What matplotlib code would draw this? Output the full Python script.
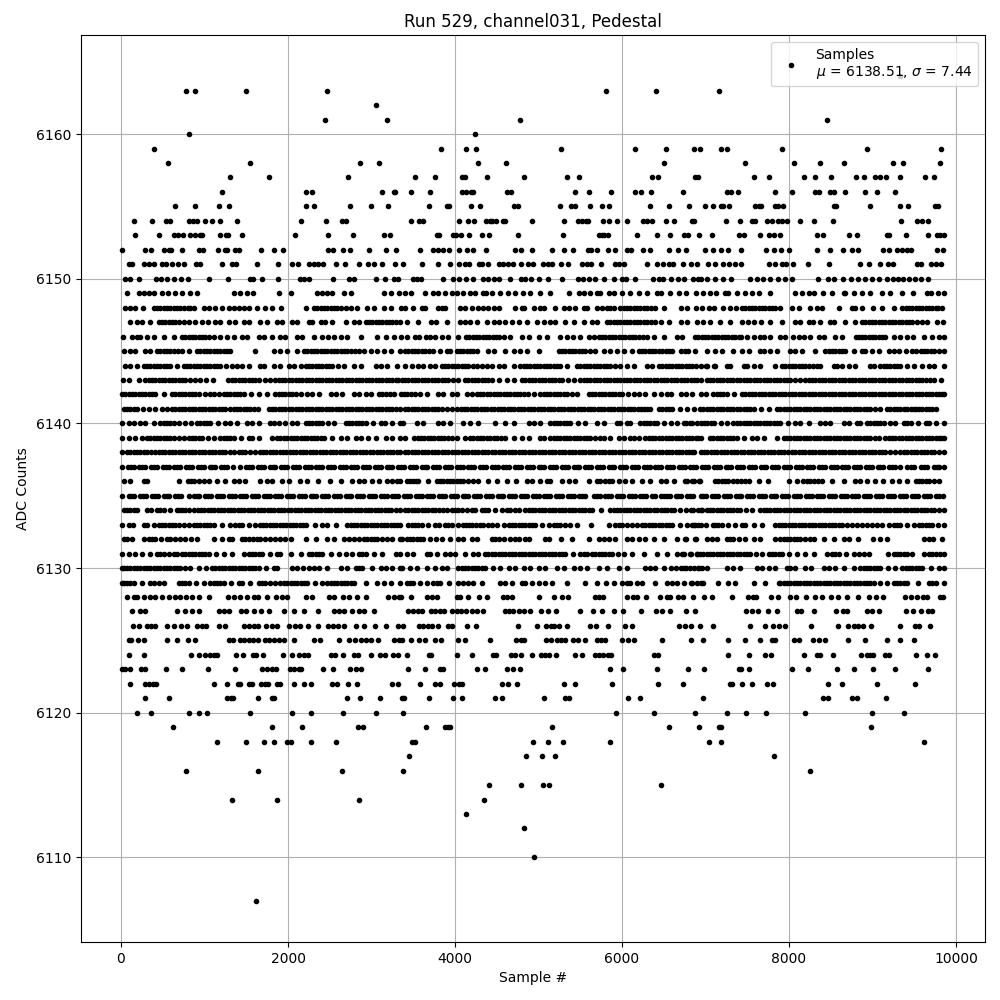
import matplotlib
matplotlib.use("Agg")
import matplotlib.pyplot as plt

# Values, one list of sample numbers per ADC level
row_6164 = [9330]
row_6163 = [774, 882, 1494, 2466, 5805, 6405, 7166]
row_6162 = [3058]
row_6161 = [2440, 3180, 4782, 8460]
row_6160 = [810, 4245]
row_6159 = [400, 3836, 4135, 4255, 5273, 6160, 6530, 6866, 6935, 7190, 7262, 7920, 8938, 9825]
row_6158 = [558, 1542, 2862, 3090, 4279, 4605, 6507, 7477, 8064, 8376, 8663, 9250, 9370, 9813]
row_6157 = [1302, 1770, 2718, 3525, 3765, 4087, 4119, 4387, 4830, 5345, 5489, 6363, 6435, 6880, 6915,
            7585, 7765, 8184, 8316, 8507, 8807, 8903, 9034, 9094, 9166, 9334, 9633, 9741]
row_6156 = [1206, 2214, 2286, 3131, 3275, 3287, 3477, 3705, 4087, 4135, 4195, 4219, 4626, 4674, 5441, 5609,
            5873, 6160, 6232, 6352, 6734, 7262, 7310, 7394, 7836, 8040, 8316, 8364, 8495, 8543, 8675, 8915,
            9058, 9274]
row_6155 = [650, 890, 1168, 1288, 2220, 2316, 2748, 2988, 3192, 3693, 3909, 3925, 4195, 4303, 4711, 4759,
            5261, 5393, 5441, 5621, 5765, 5849, 6339, 6567, 6807, 6999, 7094, 7190, 7214, 7286, 7597, 7645,
            7669, 7836, 7872, 7932, 8543, 8567, 8975, 9334, 9430, 9753, 9789]
row_6154 = [150, 366, 534, 582, 820, 858, 906, 1002, 1086, 1182, 1386, 2154, 2454, 2646, 2694, 3477, 3573,
            3621, 4052, 4160, 4231, 4375, 4423, 4447, 4495, 4579, 4603, 4925, 5309, 5477, 5525, 5573, 5597,
            5777, 5849, 5945, 6065, 6257, 6305, 6365, 6531, 6627, 6843, 6867, 7250, 7418, 7561, 7597, 7741,
            7801, 7873, 7921, 7981, 8136, 8304, 8531, 9346, 9538, 9598, 9669]
row_6153 = [173, 461, 629, 677, 737, 821, 881, 941, 965, 1181, 1253, 1277, 1445, 2081, 2477, 2777, 3149, 3221,
            3788, 3812, 3980, 4016, 4076, 4172, 4327, 4411, 4758, 5297, 5728, 5764, 5788, 5836, 6183, 6423,
            6579, 6746, 6794, 6927, 7082, 7406, 7466, 7657, 7765, 7825, 7897, 8340, 8412, 8723, 8819, 9178,
            9202, 9406, 9669, 9777, 9813, 9855]
row_6152 = [17, 293, 365, 509, 569, 593, 725, 929, 977, 1157, 1241, 1265, 1361, 1409, 1673, 1829, 1937, 2477,
            2537, 2657, 2741, 2969, 3173, 3293, 3585, 3740, 3800, 3860, 3932, 4052, 4139, 4219, 4375, 4722,
            4794, 4926, 5166, 5309, 5417, 5597, 5633, 5705, 5837, 5921, 6065, 6113, 6257, 6341, 6567, 6674,
            6770, 6998, 7094, 7190, 7274, 7430, 7729, 7825, 7909, 8004, 8336, 8495, 8651, 8759, 8831, 9130,
            9202, 9298, 9358, 9418, 9466, 9777, 9849]
row_6151 = [90, 126, 270, 330, 390, 486, 534, 606, 678, 750, 894, 942, 1205, 1325, 1373, 1625, 1877, 2053,
            2125, 2257, 2317, 2365, 2425, 2569, 2677, 2845, 2953, 3025, 3131, 3287, 3381, 3608, 3800, 3944,
            4052, 4123, 4171, 4291, 4327, 4399, 4531, 4579, 4639, 4699, 4794, 4878, 4938, 5058, 5117, 5165,
            5273, 5357, 5525, 5585, 5633, 5753, 5921, 5969, 6029, 6303, 6423, 6495, 6567, 6615, 6734, 6830,
            6902, 7034, 7118, 7214, 7286, 7358, 7430, 7765, 7837, 7920, 7968, 8052, 8232, 8483, 8855, 8963,
            9094, 9190, 9250, 9537, 9585, 9705, 9765, 9825]
row_6150 = [50, 102, 210, 414, 474, 546, 630, 714, 798, 1050, 1278, 1542, 1578, 1686, 1878, 2142, 2190, 2250,
            2538, 2730, 2790, 3054, 3162, 3270, 3318, 3501, 3549, 3597, 3860, 3980, 4052, 4136, 4219, 4339,
            4399, 4471, 4531, 4662, 4794, 4842, 4914, 5010, 5117, 5285, 5477, 5537, 5609, 5681, 5788, 5908,
            6004, 6052, 6160, 6375, 6447, 6495, 6591, 6674, 6746, 6854, 6914, 6950, 7022, 7118, 7214, 7310,
            7537, 7621, 7693, 7777, 7873, 7956, 8040, 8352, 8471, 8543, 8651, 8747, 8831, 8915, 8999, 9082,
            9178, 9250, 9310, 9370, 9441, 9513, 9585, 9669]
row_6149 = [70, 210, 270, 330, 390, 490, 562, 650, 730, 830, 910, 1350, 1430, 1510, 1578, 1890, 2038, 2350,
            2410, 2470, 2530, 2670, 2750, 3150, 3230, 3330, 3400, 3470, 3641, 3741, 3801, 3880, 3960, 4021,
            4101, 4181, 4241, 4341, 4373, 4441, 4541, 4629, 4720, 4809, 4901, 5021, 5133, 5361, 5481, 5541,
            5620, 5701, 5741, 5841, 5901, 6001, 6093, 6201, 6300, 6421, 6461, 6580, 6681, 6761, 6881, 6975,
            7055, 7130, 7235, 7275, 7375, 7475, 7560, 7640, 7775, 8075, 8155, 8235, 8295, 8407, 8515, 8655,
            8675, 8775, 8875, 8975, 9115, 9215, 9355, 9483, 9655, 9703, 9790, 9855]
row_6148 = [50, 110, 170, 258, 390, 470, 550, 630, 710, 800, 870, 990, 1050, 1130, 1210, 1290, 1350, 1410,
            1470, 1530, 1630, 1730, 1810, 1918, 2210, 2310, 2390, 2470, 2550, 2640, 2690, 2750, 2830, 2950,
            3030, 3150, 3230, 3350, 3400, 3501, 3601, 3641, 3801, 3841, 3881, 4061, 4121, 4201, 4281, 4341,
            4401, 4461, 4521, 4721, 4801, 4821, 4941, 5021, 5061, 5201, 5301, 5361, 5441, 5541, 5581, 5701,
            5761, 5901, 5981, 6060, 6140, 6220, 6300, 6400, 6501, 6701, 6781, 6881, 6960, 7040, 7100, 7215,
            7295, 7367, 7435, 7515, 7595, 7675, 7755, 7835, 7895, 8039, 8115, 8255, 8335, 8395, 8595, 8755,
            8795, 8875, 9003, 9115, 9255, 9355, 9435, 9515, 9595, 9675, 9755, 9830,
            430, 510, 590, 670, 750, 830, 2350, 2430, 2510, 2590, 5820, 5860, 6020, 6100, 6180, 6260, 6350,
            7475, 7555, 7635, 7715, 7795, 9395, 9475, 9555, 9635, 9715, 9790]
row_6147 = [110, 190, 250, 342, 450, 530, 610, 700, 810, 890, 970, 1038, 1130, 1190, 1290, 1370, 1470, 1530,
            1662, 1750, 1870, 1930, 2050, 2110, 2250, 2290, 2390, 2438, 2530, 2690, 2790, 2850, 2930, 3010,
            3090, 3170, 3250, 3340, 3420, 3561, 3709, 3773, 3901, 4061, 4121, 4181, 4261, 4381, 4461, 4521,
            4601, 4681, 4761, 4861, 4981, 5061, 5141, 5201, 5321, 5421, 5541, 5641, 5701, 5821, 5900, 5980,
            6060, 6140, 6220, 6300, 6400, 6461, 6561, 6701, 6781, 6901, 6975, 7055, 7175, 7295, 7435, 7507,
            7580, 7660, 7775, 7915, 8075, 8135, 8235, 8287, 8370, 8495, 8535, 8675, 8795, 8875, 8915, 8995,
            9075, 9155, 9235, 9315, 9395, 9475, 9595, 9647, 9767, 9845,
            490, 570, 650, 750, 2970, 3050, 3130, 3210, 3290, 5860, 5940, 6020, 6100, 6180, 6260, 6350,
            8955, 9035, 9115, 9195, 9275, 9355, 9435, 9530]
row_6146 = [18, 130, 190, 230, 310, 390, 510, 630, 730, 810, 890, 970, 1050, 1190, 1270, 1350, 1450, 1510,
            1650, 1718, 1810, 1910, 1970, 2110, 2170, 2310, 2410, 2478, 2550, 2630, 2710, 2870, 3070, 3170,
            3270, 3350, 3421, 3521, 3573, 3653, 3701, 3761, 3841, 3921, 4041, 4129, 4210, 4290, 4370, 4450,
            4530, 4581, 4661, 4801, 4881, 5001, 5101, 5253, 5341, 5409, 5501, 5600, 5661, 5721, 5800, 5880,
            5960, 6040, 6120, 6200, 6300, 6381, 6501, 6660, 6723, 6875, 6955, 7035, 7115, 7195, 7275, 7355,
            7430, 7495, 7575, 7655, 7695, 7775, 7895, 7955, 8047, 8115, 8175, 8255, 8355, 8415, 8555, 8635,
            8800, 8835, 8915, 8995, 9075, 9155, 9255, 9335, 9415, 9483, 9615, 9715, 9795, 9855,
            770, 850, 930, 1010, 1110, 4170, 4250, 4330, 4410, 4490, 5760, 5840, 5920, 6000, 6080, 6160, 6250,
            6915, 6995, 7075, 7155, 7235, 7315, 7395, 8875, 8955, 9035, 9115]
row_6145 = [30, 110, 170, 290, 342, 430, 470, 550, 630, 730, 810, 910, 990, 1070, 1150, 1230, 1310, 1610,
            1830, 1910, 1990, 2110, 2190, 2270, 2350, 2430, 2510, 2590, 2670, 2750, 2850, 2910, 2990, 3070,
            3150, 3230, 3340, 3401, 3481, 3561, 3641, 3741, 3821, 3901, 3941, 4021, 4101, 4181, 4261, 4401,
            4461, 4601, 4701, 4781, 4861, 5001, 5241, 5321, 5401, 5481, 5561, 5681, 5781, 5861, 5941, 6021,
            6121, 6201, 6281, 6361, 6441, 6521, 6601, 6701, 6753, 6795, 6875, 7015, 7115, 7195, 7335, 7435,
            7515, 7655, 7695, 7775, 7855, 8015, 8075, 8155, 8315, 8435, 8515, 8595, 8675, 8875, 8915, 8995,
            9075, 9195, 9255, 9315, 9395, 9475, 9515, 9575, 9655, 9735, 9855,
            510, 590, 680, 950, 1030, 1110, 1190, 1270, 2230, 2310, 2390, 2470, 2550, 2630, 2710, 2800,
            3441, 3521, 3601, 3691, 4061, 4141, 4221, 5281, 5361, 5441, 5521, 5620, 6241, 6321, 6401, 6481,
            6561, 8475, 8555, 8635, 8780, 9615, 9695, 9795]
row_6144 = [50, 110, 190, 270, 350, 430, 510, 590, 750, 790, 870, 950, 1030, 1110, 1190, 1330, 1390, 1450,
            1530, 1670, 1710, 1830, 1910, 2010, 2070, 2150, 2210, 2290, 2370, 2450, 2530, 2670, 2790, 2870,
            3050, 3110, 3190, 3310, 3401, 3481, 3561, 3621, 3701, 3761, 3841, 3921, 4001, 4081, 4161, 4261,
            4321, 4381, 4441, 4521, 4581, 4701, 4781, 4861, 4941, 5021, 5101, 5181, 5261, 5341, 5461, 5541,
            5621, 5701, 5781, 5861, 5981, 6061, 6141, 6301, 6361, 6441, 6521, 6601, 6681, 6761, 6841, 6941,
            7000, 7100, 7015, 7115, 7255, 7295, 7455, 7495, 7575, 7655, 7835, 7915, 7995, 8075, 8155, 8235,
            8335, 8375, 8535, 8575, 8635, 8715, 8795, 8975, 9015, 9095, 9175, 9255, 9335, 9495, 9595, 9675,
            9735, 9855,
            310, 390, 470, 550, 670, 830, 910, 990, 1070, 1150, 1260, 2250, 2330, 2410, 2490, 2600,
            3881, 3961, 4041, 4121, 4210, 4821, 4901, 4981, 5061, 5141, 5221, 5501, 5581, 5661, 5741, 5821,
            5920, 6481, 6561, 6641, 6721, 6801, 6890, 7955, 8035, 8115, 8195, 8285, 9135, 9215, 9295, 9415]
row_6143 = [22, 100, 210, 290, 370, 450, 530, 610, 690, 770, 890, 942, 1020, 1100, 1278, 1330, 1410, 1490,
            1570, 1650, 1790, 1850, 1930, 2010, 2090, 2170, 2250, 2330, 2410, 2490, 2570, 2650, 2730, 2810,
            2890, 2970, 3050, 3130, 3210, 3290, 3361, 3441, 3521, 3601, 3681, 3761, 3841, 3921, 4041, 4121,
            4201, 4281, 4361, 4441, 4621, 4701, 4801, 4881, 4961, 5041, 5121, 5201, 5281, 5421, 5501, 5581,
            5661, 5741, 5821, 5901, 5981, 6061, 6141, 6221, 6301, 6381, 6461, 6541, 6621, 6701, 6781, 6861,
            6941, 7055, 7135, 7215, 7295, 7375, 7455, 7535, 7615, 7695, 7775, 7855, 7935, 8015, 8135, 8195,
            8275, 8355, 8435, 8515, 8595, 8675, 8755, 8835, 8915, 8995, 9075, 9155, 9235, 9315, 9395, 9475,
            9555, 9635, 9735, 9815,
            330, 410, 490, 570, 650, 730, 830, 1370, 1450, 1530, 1610, 1720, 1890, 1970, 2050, 2130, 2210,
            2290, 2370, 2450, 2530, 2610, 2690, 2770, 2850, 2930, 3010, 3090, 3170, 3250, 3320, 3401, 3481,
            3561, 3641, 3721, 3801, 3881, 3980, 4161, 4241, 4321, 4401, 4530, 4841, 4921, 5001, 5081, 5161,
            5241, 5350, 5541, 5621, 5701, 5781, 5861, 5941, 6021, 6101, 6181, 6261, 6341, 6421, 6501, 6581,
            6661, 6741, 6821, 6901, 7015, 7095, 7175, 7255, 7335, 7415, 7495, 7575, 7655, 7735, 7815, 7895,
            7975, 8075, 8235, 8315, 8395, 8475, 8555, 8635, 8715, 8795, 8875, 8955, 9035, 9115, 9195, 9275,
            9355, 9435, 9515, 9595, 9685]
row_6142 = [10, 90, 170, 250, 330, 410, 510, 610, 690, 770, 850, 930, 1070, 1110, 1170, 1230, 1310, 1390,
            1470, 1650, 1750, 1850, 1930, 2010, 2090, 2230, 2290, 2370, 2510, 2570, 2650, 2790, 2850, 2930,
            2990, 3090, 3170, 3270, 3350, 3430, 3521, 3581, 3661, 3801, 3861, 3961, 4021, 4141, 4201, 4261,
            4341, 4421, 4501, 4581, 4661, 4741, 4821, 4941, 5021, 5101, 5181, 5261, 5341, 5461, 5601, 5681,
            5761, 5841, 5921, 6000, 6141, 6201, 6281, 6381, 6461, 6541, 6581, 6701, 6761, 6841, 6941, 7000,
            7095, 7175, 7255, 7435, 7475, 7555, 7635, 7715, 7795, 7875, 7955, 8035, 8115, 8195, 8275, 8355,
            8435, 8515, 8595, 8675, 8755, 8835, 8915, 8995, 9075, 9155, 9235, 9315, 9395, 9475, 9555, 9635,
            9715, 9795, 9860,
            50, 130, 210, 290, 370, 650, 730, 810, 890, 1000, 1270, 1350, 1430, 1560, 1890, 1970, 2050, 2160,
            3130, 3220, 3390, 3470, 4301, 4381, 4461, 4541, 4621, 4701, 4781, 4880, 5061, 5141, 5221, 5301,
            5400, 5641, 5721, 5801, 5881, 5960, 6070, 7135, 7215, 7345, 7515, 7595, 7675, 7755, 7835, 7915,
            7995, 8075, 8155, 8235, 8315, 8395, 8475, 8555, 8635, 8715, 8795, 8875, 8955, 9035, 9115, 9195,
            9275, 9355, 9435, 9515, 9595, 9675, 9755, 9830]
row_6141 = [30, 110, 190, 330, 410, 490, 550, 610, 690, 770, 850, 930, 1010, 1090, 1170, 1250, 1350, 1390,
            1470, 1550, 1640, 1770, 1810, 1850, 1890, 1970, 2050, 2130, 2210, 2290, 2370, 2450, 2530, 2610,
            2690, 2770, 2850, 2930, 3010, 3090, 3170, 3250, 3340, 3441, 3521, 3601, 3681, 3761, 3841, 3961,
            4029, 4109, 4189, 4269, 4349, 4429, 4509, 4589, 4669, 4749, 4829, 4909, 4989, 5069, 5149, 5229,
            5309, 5389, 5469, 5549, 5629, 5709, 5789, 5869, 5949, 6029, 6109, 6189, 6269, 6341, 6441, 6521,
            6601, 6781, 6861, 6935, 7015, 7095, 7175, 7255, 7335, 7415, 7495, 7575, 7755, 7855, 7935, 8015,
            8095, 8175, 8255, 8335, 8415, 8495, 8575, 8655, 8735, 8815, 8895, 8975, 9095, 9175, 9255, 9335,
            9415, 9495, 9555, 9635, 9715, 9755,
            70, 150, 260, 650, 730, 810, 890, 970, 1050, 1130, 1210, 1300, 1430, 1510, 1595, 1930, 2010, 2090,
            2170, 2250, 2330, 2410, 2490, 2570, 2650, 2730, 2810, 2890, 2970, 3050, 3130, 3210, 3295, 3401,
            3481, 3561, 3641, 3721, 3801, 3900, 4069, 4149, 4229, 4309, 4389, 4469, 4549, 4629, 4709, 4789,
            4869, 4949, 5029, 5109, 5189, 5269, 5349, 5429, 5509, 5589, 5669, 5749, 5829, 5909, 5989, 6069,
            6149, 6229, 6305, 6481, 6561, 6690, 6975, 7055, 7135, 7215, 7295, 7375, 7455, 7535, 7660, 7895,
            7975, 8055, 8135, 8215, 8295, 8375, 8455, 8535, 8615, 8695, 8775, 8855, 8935, 9035, 9215, 9295,
            9375, 9455, 9525, 9595, 9675]
row_6140 = [10, 90, 150, 222, 290, 390, 470, 550, 630, 770, 838, 910, 990, 1070, 1250, 1302, 1390, 1510, 1570,
            1650, 1790, 1830, 1890, 1970, 2050, 2110, 2210, 2250, 2330, 2410, 2550, 2690, 2770, 2850, 2930,
            3110, 3162, 3250, 3340, 3373, 3541, 3621, 3801, 3853, 3941, 4101, 4181, 4281, 4481, 4601, 4701,
            4881, 4941, 5021, 5141, 5221, 5301, 5381, 5561, 5701, 5781, 5941, 5981, 6061, 6101, 6221, 6261,
            6341, 6421, 6581, 6661, 6761, 6841, 6941, 7020, 7100, 7255, 7335, 7415, 7495, 7575, 7655, 7735,
            7815, 7895, 8075, 8135, 8235, 8375, 8435, 8495, 8655, 8715, 8815, 8855, 8935, 8975, 9055, 9135,
            9275, 9375, 9455, 9635, 9675, 9755, 9855,
            510, 590, 700, 950, 1030, 1160, 2290, 2370, 2480, 2730, 2810, 2890, 3020, 5181, 5261, 5341, 5470,
            6301, 6381, 6500, 6740, 6820, 6900, 6980, 7060, 7180, 7375, 7455, 7535, 7615, 7695, 7775, 7855,
            7985, 9015, 9095, 9205, 9415, 9545]
row_6139 = [10, 90, 170, 250, 310, 390, 470, 550, 630, 750, 810, 890, 970, 1110, 1190, 1270, 1350, 1530, 1570,
            1650, 1810, 1870, 1950, 2030, 2110, 2190, 2270, 2350, 2430, 2630, 2702, 2810, 2870, 2958, 3054,
            3170, 3250, 3340, 3401, 3511, 3591, 3671, 3751, 3831, 3911, 4021, 4121, 4181, 4261, 4341, 4421,
            4501, 4601, 4701, 4801, 4881, 5021, 5069, 5141, 5221, 5301, 5381, 5461, 5541, 5621, 5741, 5781,
            5861, 5961, 6021, 6101, 6141, 6201, 6281, 6361, 6441, 6521, 6601, 6681, 6761, 6841, 6941, 6905,
            7055, 7135, 7215, 7295, 7375, 7555, 7615, 7695, 7855, 7935, 8015, 8095, 8175, 8255, 8335, 8415,
            8495, 8575, 8655, 8735, 8815, 8895, 8975, 9075, 9155, 9235, 9315, 9395, 9475, 9555, 9635, 9715,
            9795, 9855,
            350, 430, 510, 590, 690, 850, 930, 1040, 1230, 1310, 1440, 1910, 1990, 2070, 2150, 2230, 2310, 2390,
            2530, 3551, 3631, 3711, 3791, 3871, 3965, 4221, 4301, 4381, 4461, 4550, 5181, 5261, 5341, 5421,
            5501, 5581, 5680, 6321, 6401, 6481, 6561, 6641, 6721, 6801, 6890, 7095, 7175, 7255, 7335, 7465,
            7975, 8055, 8135, 8215, 8295, 8375, 8455, 8535, 8615, 8695, 8775, 8855, 8935, 9025, 9195, 9275,
            9355, 9435, 9515, 9595, 9675, 9755, 9825]
row_6138 = [10, 70, 150, 230, 310, 410, 450, 530, 610, 690, 770, 850, 930, 1010, 1090, 1170, 1250, 1350, 1410,
            1490, 1610, 1662, 1740, 1820, 1900, 1980, 2060, 2140, 2220, 2300, 2380, 2460, 2540, 2620, 2700,
            2780, 2860, 2940, 3020, 3100, 3180, 3260, 3340, 3441, 3521, 3601, 3681, 3761, 3841, 3921, 3961,
            4041, 4121, 4201, 4281, 4361, 4441, 4521, 4601, 4681, 4761, 4841, 4921, 5001, 5081, 5161, 5241,
            5321, 5401, 5481, 5561, 5641, 5721, 5801, 5881, 5961, 6041, 6121, 6201, 6281, 6361, 6441, 6521,
            6601, 6681, 6761, 6841, 6943, 7023, 7103, 7183, 7263, 7343, 7423, 7503, 7583, 7663, 7743, 7823,
            7903, 7983, 8075, 8115, 8195, 8275, 8355, 8435, 8515, 8595, 8675, 8755, 8835, 8915, 8995, 9075,
            9155, 9270, 9335, 9415, 9495, 9575, 9655, 9735, 9855,
            110, 190, 270, 360, 490, 570, 650, 730, 810, 890, 970, 1050, 1130, 1210, 1300, 1450, 1550, 1700,
            1780, 1860, 1940, 2020, 2100, 2180, 2260, 2340, 2420, 2500, 2580, 2660, 2740, 2820, 2900, 2980,
            3060, 3140, 3220, 3300, 3401, 3481, 3561, 3641, 3721, 3801, 3881, 4001, 4081, 4161, 4241, 4321,
            4401, 4481, 4561, 4641, 4721, 4801, 4881, 4961, 5041, 5121, 5201, 5281, 5361, 5441, 5521, 5601,
            5681, 5761, 5841, 5921, 6001, 6081, 6161, 6241, 6321, 6401, 6481, 6561, 6641, 6721, 6801, 6861,
            6983, 7063, 7143, 7223, 7303, 7383, 7463, 7543, 7623, 7703, 7783, 7863, 7943, 8030, 8155, 8235,
            8315, 8395, 8475, 8555, 8635, 8715, 8795, 8875, 8955, 9035, 9115, 9210, 9375, 9455, 9535, 9615,
            9695, 9795]
row_6137 = [10, 80, 150, 220, 290, 360, 430, 500, 570, 640, 710, 780, 850, 920, 990, 1060, 1130, 1200, 1270,
            1340, 1420, 1498, 1570, 1640, 1710, 1780, 1850, 1920, 1990, 2060, 2130, 2200, 2270, 2340, 2410,
            2480, 2550, 2620, 2690, 2760, 2830, 2900, 2970, 3040, 3110, 3180, 3250, 3320, 3390, 3460, 3530,
            3600, 3670, 3740, 3810, 3880, 3950, 4020, 4090, 4160, 4230, 4300, 4370, 4440, 4510, 4580, 4650,
            4720, 4790, 4860, 4930, 5000, 5070, 5140, 5210, 5280, 5350, 5420, 5490, 5560, 5630, 5700, 5770,
            5840, 5910, 5980, 6050, 6120, 6190, 6260, 6330, 6400, 6470, 6540, 6610, 6680, 6750, 6820, 6890,
            6960, 7030, 7100, 7170, 7240, 7310, 7380, 7450, 7520, 7590, 7660, 7730, 7800, 7870, 7940, 8010,
            8080, 8150, 8220, 8290, 8360, 8430, 8500, 8570, 8640, 8710, 8780, 8850, 8920, 8990, 9060, 9130,
            9200, 9270, 9335, 9415, 9495, 9575, 9655, 9735, 9800, 9855,
            115, 255, 395, 535, 675, 815, 955, 1095, 1235, 1535, 1675, 1815, 1955, 2095, 2235, 2375, 2515, 2655,
            2795, 2935, 3075, 3215, 3355, 3495, 3635, 3775, 3915, 4055, 4195, 4335, 4475, 4615, 4755, 4895,
            5035, 5175, 5315, 5455, 5595, 5735, 5875, 6015, 6155, 6295, 6435, 6575, 6715, 6855, 6995, 7135,
            7275, 7415, 7555, 7695, 7835, 7975, 8115, 8255, 8395, 8535, 8675, 8815, 8955, 9095, 9235, 9455,
            9615, 9775]
row_6136 = [30, 110, 270, 310, 690, 800, 880, 990, 1050, 1150, 1250, 1350, 1410, 1490, 1670, 1750, 1810, 1930,
            2010, 2138, 2230, 2358, 2500, 2630, 2770, 2850, 2910, 3010, 3090, 3190, 3250, 3310, 3341, 3421,
            3501, 3561, 3681, 3781, 3861, 3941, 4021, 4101, 4221, 4281, 4401, 4501, 4621, 4729, 4861, 4921,
            5013, 5101, 5141, 5281, 5361, 5441, 5601, 5701, 5741, 5801, 5881, 6041, 6121, 6241, 6341, 6461,
            6521, 6621, 6781, 6861, 6921, 6755, 6835, 6935, 7115, 7195, 7275, 7375, 7475, 7515, 7635, 7743,
            7995, 8095, 8163, 8215, 8295, 8395, 8515, 8655, 8795, 8855, 8935, 9035, 9123, 9235, 9315, 9415,
            9515, 9595, 9675, 9795,
            840, 940, 3461, 3531, 3821, 3901, 3981, 4061, 4160, 5841, 5960, 7155, 7235, 7325, 7425, 8255, 8345,
            9555, 9635, 9735]
row_6135 = [10, 90, 160, 230, 300, 370, 440, 510, 580, 650, 720, 810, 870, 940, 1010, 1080, 1150, 1220, 1290,
            1360, 1430, 1500, 1570, 1640, 1710, 1780, 1850, 1920, 1990, 2060, 2130, 2200, 2270, 2340, 2410,
            2480, 2550, 2620, 2690, 2760, 2830, 2900, 2970, 3040, 3110, 3180, 3250, 3320, 3390, 3460, 3530,
            3600, 3670, 3740, 3810, 3880, 3950, 4020, 4090, 4160, 4230, 4300, 4370, 4440, 4510, 4580, 4650,
            4720, 4790, 4860, 4930, 5000, 5070, 5140, 5210, 5280, 5350, 5420, 5490, 5561, 5661, 5731, 5801,
            5871, 5941, 6011, 6081, 6151, 6221, 6291, 6361, 6461, 6501, 6571, 6641, 6711, 6781, 6851, 6941,
            7010, 7080, 7150, 7220, 7290, 7360, 7430, 7500, 7570, 7640, 7710, 7780, 7850, 7920, 7990, 8060,
            8130, 8200, 8270, 8340, 8410, 8480, 8550, 8620, 8690, 8760, 8830, 8900, 8970, 9040, 9110, 9180,
            9260, 9335, 9405, 9475, 9545, 9615, 9685, 9755, 9850,
            125, 265, 405, 545, 685, 905, 1045, 1185, 1325, 1465, 1605, 1745, 1885, 2025, 2165, 2305, 2445, 2585,
            2725, 2865, 3005, 3145, 3285, 3425, 3565, 3705, 3845, 3985, 4125, 4265, 4405, 4545, 4685, 4825,
            4965, 5105, 5245, 5385, 5525, 5696, 5836, 5976, 6116, 6256, 6396, 6536, 6676, 6816, 6975, 7115,
            7255, 7395, 7535, 7675, 7815, 7955, 8095, 8235, 8375, 8515, 8655, 8795, 8935, 9075, 9220, 9370,
            9510, 9650, 9800]
row_6134 = [38, 110, 190, 310, 358, 430, 510, 670, 690, 770, 870, 918, 998, 1078, 1158, 1238, 1318, 1398, 1478,
            1558, 1638, 1718, 1798, 1878, 1958, 2038, 2118, 2198, 2278, 2358, 2438, 2518, 2598, 2678, 2758,
            2838, 2918, 2998, 3078, 3158, 3238, 3340, 3401, 3441, 3521, 3601, 3681, 3761, 3861, 3961, 4001,
            4081, 4201, 4241, 4321, 4401, 4561, 4621, 4661, 4721, 4761, 4841, 4921, 5001, 5081, 5161, 5241,
            5321, 5401, 5481, 5561, 5641, 5861, 5901, 5981, 6061, 6141, 6221, 6301, 6381, 6461, 6541, 6621,
            6761, 6821, 6941, 6855, 6955, 7015, 7095, 7175, 7255, 7335, 7415, 7555, 7655, 7735, 7815, 7895,
            7975, 8055, 8135, 8215, 8295, 8375, 8455, 8535, 8615, 8695, 8775, 8855, 8935, 9015, 9095, 9175,
            9255, 9335, 9415, 9495, 9575, 9655, 9735, 9855,
            70, 150, 470, 590, 730, 820, 958, 1038, 1118, 1198, 1278, 1358, 1438, 1518, 1598, 1678, 1758, 1838,
            1918, 1998, 2078, 2158, 2238, 2318, 2398, 2478, 2558, 2638, 2718, 2798, 2878, 2958, 3038, 3118,
            3198, 3290, 3481, 3561, 3641, 3721, 3810, 3910, 4041, 4140, 4361, 4480, 4881, 4961, 5041, 5121,
            5201, 5281, 5361, 5441, 5521, 5601, 5750, 5941, 6021, 6101, 6181, 6261, 6341, 6421, 6501, 6581,
            6690, 6905, 7055, 7135, 7215, 7295, 7375, 7485, 7695, 7775, 7855, 7935, 8015, 8095, 8175, 8255,
            8335, 8415, 8495, 8575, 8655, 8735, 8815, 8895, 8975, 9055, 9135, 9215, 9295, 9375, 9455, 9535,
            9615, 9695, 9795]
row_6133 = [10, 90, 140, 270, 310, 390, 450, 530, 610, 690, 810, 870, 950, 1030, 1110, 1310, 1370, 1450, 1610,
            1662, 1740, 1820, 1900, 1980, 2060, 2140, 2220, 2410, 2470, 2570, 2710, 2790, 2870, 2950, 3030,
            3110, 3190, 3270, 3340, 3441, 3521, 3601, 3761, 3813, 3881, 3961, 4101, 4129, 4209, 4301, 4341,
            4441, 4501, 4581, 4641, 4721, 4801, 4881, 4961, 5121, 5181, 5261, 5381, 5461, 5633, 5841, 5921,
            6000, 6121, 6181, 6241, 6281, 6361, 6441, 6521, 6601, 6781, 6861, 6941, 6835, 6915, 7095, 7115,
            7195, 7355, 7435, 7475, 7575, 7675, 7835, 7915, 7995, 8075, 8155, 8235, 8315, 8395, 8475, 8555,
            8635, 8755, 8875, 8935, 9055, 9115, 9195, 9255, 9335, 9495, 9555, 9635, 9715, 9855,
            490, 570, 650, 750, 910, 990, 1070, 1210, 1410, 1530, 1700, 1780, 1860, 1940, 2020, 2100, 2180, 2320,
            2750, 2830, 2910, 2990, 3070, 3150, 3230, 3305, 3481, 3561, 3680, 3921, 4030, 4169, 4255, 4391,
            4681, 4761, 4841, 4921, 5040, 5221, 5320, 5961, 6060, 6321, 6401, 6481, 6561, 6690, 6875, 7005,
            7155, 7275, 7875, 7955, 8035, 8115, 8195, 8275, 8355, 8435, 8515, 8595, 8695, 8815, 8995, 9295,
            9415, 9595, 9675, 9785]
row_6132 = [38, 70, 130, 270, 330, 410, 550, 590, 710, 770, 910, 1110, 1210, 1290, 1330, 1450, 1530, 1630, 1670,
            1730, 1790, 1850, 1910, 1970, 2030, 2218, 2330, 2470, 2550, 2670, 2730, 2790, 2850, 2910, 2990,
            3070, 3190, 3250, 3340, 3361, 3421, 3501, 3581, 3621, 3701, 3841, 3941, 4041, 4101, 4201, 4261,
            4441, 4521, 4661, 4721, 4761, 4841, 4881, 5081, 5121, 5273, 5401, 5601, 5721, 5781, 5841, 5921,
            6061, 6121, 6201, 6281, 6381, 6501, 6661, 6761, 6881, 6755, 6875, 7015, 7075, 7143, 7255, 7335,
            7475, 7575, 7655, 7835, 7895, 7975, 8055, 8135, 8255, 8295, 8415, 8535, 8655, 8715, 8823, 9007,
            9095, 9175, 9615, 9675, 9723, 9835,
            370, 480, 650, 840, 1490, 1580, 2950, 3030, 3130, 3461, 3541, 3771, 4481, 4590, 7295, 7405, 7935,
            8015, 8095, 8195]
row_6131 = [10, 90, 170, 250, 350, 430, 510, 630, 670, 730, 810, 890, 970, 1050, 1230, 1330, 1470, 1530, 1610,
            1690, 1870, 1910, 2030, 2150, 2250, 2330, 2410, 2610, 2690, 2770, 2850, 2930, 3130, 3290, 3340,
            3421, 3501, 3661, 3701, 3781, 3881, 3941, 4001, 4121, 4221, 4281, 4361, 4441, 4521, 4601, 4681,
            4761, 4841, 4921, 5001, 5081, 5161, 5241, 5321, 5501, 5541, 5581, 5641, 5721, 5801, 5881, 6021,
            6121, 6261, 6421, 6541, 6661, 6741, 6821, 6901, 6715, 6815, 6895, 6975, 7055, 7135, 7215, 7295,
            7375, 7455, 7535, 7675, 7755, 7835, 7915, 8095, 8195, 8295, 8455, 8515, 8595, 8775, 8835, 8955,
            9183, 9255, 9335, 9415, 9475, 9615, 9675, 9755, 9855,
            470, 570, 770, 850, 930, 1010, 1140, 1570, 1650, 1780, 2290, 2370, 2510, 2890, 3030, 4401, 4481,
            4561, 4641, 4721, 4801, 4881, 4961, 5041, 5121, 5201, 5281, 5410, 5681, 5761, 5841, 5950, 6935,
            7015, 7095, 7175, 7255, 7335, 7415, 7495, 7605, 7795, 7875, 8005, 8555, 8685, 8895, 9295, 9375,
            9715, 9805]
row_6130 = [10, 70, 150, 230, 310, 390, 470, 550, 630, 710, 830, 930, 1018, 1090, 1170, 1250, 1330, 1410, 1490,
            1570, 1650, 1830, 1870, 2050, 2110, 2250, 2310, 2370, 2470, 2630, 2710, 2810, 2890, 3110, 3170,
            3250, 3340, 3361, 3461, 3541, 3661, 3761, 3841, 3901, 4041, 4121, 4201, 4281, 4361, 4541, 4641,
            4721, 4821, 4893, 5001, 5081, 5221, 5301, 5421, 5501, 5581, 5721, 5821, 5961, 6061, 6281, 6341,
            6401, 6501, 6581, 6641, 6701, 6761, 6861, 6921, 6740, 6820, 6915, 6955, 7015, 7255, 7335, 7415,
            7615, 7675, 7755, 7835, 7975, 8007, 8075, 8195, 8263, 8415, 8475, 8555, 8655, 8775, 8855, 8935,
            9015, 9095, 9275, 9355, 9435, 9515, 9595, 9795, 9860,
            40, 110, 190, 270, 350, 430, 510, 590, 670, 770, 1130, 1210, 1290, 1370, 1450, 1530, 1610, 1740,
            2180, 2850, 3000, 4081, 4161, 4241, 4321, 4450, 8895, 8975, 9055, 9185, 9395, 9475, 9555, 9695]
row_6129 = [10, 70, 150, 350, 390, 450, 510, 690, 730, 810, 990, 1070, 1150, 1230, 1410, 1450, 1550, 1650, 1730,
            1850, 1910, 1990, 2070, 2150, 2230, 2410, 2470, 2550, 2630, 2710, 2790, 3070, 3150, 3230, 3340,
            3421, 3501, 3661, 3741, 3821, 4041, 4101, 4161, 4221, 4321, 4541, 4601, 4681, 4801, 4841, 4921,
            5001, 5081, 5161, 5341, 5561, 5701, 5809, 5901, 6001, 6061, 6101, 6181, 6241, 6401, 6541, 6601,
            6661, 6741, 6821, 6941, 6835, 6895, 6975, 7155, 7275, 7355, 7575, 7715, 7875, 7895, 7975, 8055,
            8135, 8215, 8295, 8375, 8455, 8535, 8615, 8695, 8775, 8855, 8935, 9015, 9175, 9255, 9335, 9415,
            9675, 9715, 9855,
            40, 110, 250, 770, 900, 1110, 1190, 1320, 1690, 1790, 1950, 2030, 2110, 2190, 2320, 2510, 2590, 2670,
            2750, 2930, 3461, 3581, 3781, 3931, 7935, 8015, 8095, 8175, 8255, 8335, 8415, 8495, 8575, 8655,
            8735, 8815, 8895, 8975, 9095, 9295, 9375, 9545, 9755]
row_6128 = [70, 150, 190, 270, 350, 410, 486, 570, 650, 710, 774, 850, 930, 1050, 1278, 1350, 1430, 1510, 1590,
            1638, 1746, 1854, 1934, 1986, 2214, 2286, 2490, 2550, 2658, 2730, 2830, 2934, 3198, 3270, 3330,
            3357, 3477, 3661, 3729, 3789, 4028, 4064, 4160, 4291, 4387, 4579, 4627, 4687, 5009, 5189, 5285,
            5357, 5681, 5729, 5777, 6063, 6135, 6183, 6291, 6459, 6543, 6579, 6675, 6735, 6854, 6986, 7082,
            7322, 7513, 7573, 7609, 7789, 7873, 8016, 8088, 8208, 8316, 8400, 8507, 8591, 8699, 8831, 8963,
            9047, 9130, 9394, 9466, 9537, 9609, 9657, 9813, 9849]
row_6127 = [126, 222, 282, 666, 762, 846, 930, 1170, 1230, 1290, 1434, 1494, 1590, 1674, 1770, 1950, 2070, 2190,
            2358, 2550, 2610, 2670, 2770, 2850, 2910, 3030, 3441, 3501, 3561, 3609, 3717, 3765, 3825, 3873,
            3968, 4028, 4076, 4136, 4207, 4267, 4339, 4602, 4650, 4698, 4770, 4830, 4902, 5034, 5117, 5213,
            5501, 5657, 5764, 5909, 6016, 6231, 6411, 6483, 6579, 6771, 6878, 7489, 7561, 7633, 7753, 7861,
            8100, 8148, 8304, 8567, 8651, 8699, 8939, 8999, 9082, 9406, 9490, 9585, 9669, 9717]
row_6126 = [138, 210, 306, 354, 402, 546, 630, 714, 786, 906, 966, 1014, 1170, 1242, 1470, 1530, 1590, 1638,
            1734, 1806, 1866, 2010, 2082, 2142, 2238, 2358, 2478, 2538, 2598, 2670, 2814, 2910, 3042, 3174,
            3318, 3381, 3573, 3621, 3681, 3729, 3800, 3920, 3968, 4147, 4255, 4758, 4986, 5094, 5153, 5189,
            5249, 5345, 5621, 5693, 5837, 6039, 6123, 6686, 6758, 6830, 6939, 7094, 7537, 7717, 7813, 7885,
            7956, 8268, 8591, 8711, 8783, 8831, 8891, 8987, 9334, 9513, 9561, 9693]
row_6125 = [100, 125, 198, 270, 556, 676, 808, 892, 1288, 1336, 1420, 1468, 1528, 1576, 1636, 1720, 1768, 1828,
            1888, 1948, 2068, 2308, 2380, 2608, 2728, 2800, 2878, 2938, 2998, 3076, 3270, 3330, 3369, 3477,
            3573, 3645, 3764, 3836, 4040, 4123, 4423, 4734, 4794, 4830, 5094, 5153, 5225, 5273, 5321, 5417,
            5477, 5561, 5704, 5752, 5800, 6004, 6075, 6147, 6482, 6830, 6974, 7274, 7477, 7657, 7801, 7837,
            8064, 8124, 8292, 8364, 8435, 8711, 8915, 9178, 9334, 9502]
row_6124 = [90, 270, 835, 940, 1000, 1060, 1108, 1144, 1372, 1456, 1576, 1612, 1700, 1940, 2044, 2128, 2188,
            2236, 2512, 2560, 2656, 2788, 2836, 2992, 3100, 3160, 3256, 3316, 3429, 3693, 3717, 4028, 4209,
            4459, 4495, 4676, 4724, 4794, 4926, 5034, 5082, 5130, 5214, 5441, 5525, 5681, 5729, 5777, 5837,
            5873, 6387, 6435, 7274, 7525, 7717, 7789, 8184, 8340, 8376, 8531, 8867, 8939, 8975, 9010, 9154,
            9202, 9525, 9657, 9753]
row_6123 = [17, 53, 113, 245, 293, 533, 725, 1037, 1361, 1693, 1753, 1805, 1853, 2021, 2069, 2129, 2153, 2417,
            2537, 2741, 2813, 2873, 3441, 3645, 3824, 3860, 4267, 4363, 4626, 4698, 4782, 5860, 6016, 6423,
            6794, 6986, 7406, 7430, 7525, 8040, 8232, 8579, 8783, 9010, 9274, 9669]
row_6122 = [112, 293, 341, 389, 425, 1118, 1275, 1406, 1430, 1538, 1574, 1682, 1730, 1766, 1874, 1910, 2076,
            2196, 2280, 2532, 2592, 2724, 2832, 3249, 3321, 3585, 3764, 3824, 3992, 4052, 4088, 4567, 4638,
            4746, 5309, 5441, 5885, 6435, 6734, 7298, 7322, 7441, 7561, 7741, 7813, 8471, 8639, 9058, 9513]
row_6121 = [293, 569, 1275, 1323, 1347, 1645, 1806, 1830, 2711, 2867, 3107, 3362, 3395, 3693, 3980, 4088, 4483,
            4567, 5070, 5321, 5369, 6075, 6219, 6974, 8412, 8471, 8759, 8819, 9166]
row_6120 = [186, 354, 820, 940, 1024, 1542, 2042, 2274, 2658, 3058, 3381, 5932, 6387, 6878, 7262, 7489, 7729,
            8196, 8998, 9382]
row_6119 = [618, 1806, 2166, 2838, 2898, 3657, 3885, 3921, 3945, 5165, 6567, 6926, 7166, 7190, 8986]
row_6118 = [1146, 1494, 1710, 1830, 1986, 2034, 2274, 2574, 3489, 3525, 4938, 5117, 5297, 5860, 7046, 7190, 9621]
row_6117 = [3453, 4854, 5046, 5201, 7825]
row_6116 = [774, 1638, 2646, 3381, 8256]
row_6115 = [4411, 4794, 5058, 5130, 6471]
row_6114 = [1326, 1866, 2850, 4351]
row_6113 = [4135]
row_6112 = [4830]
row_6110 = [4950]
row_6107 = [1614]

adc_levels = [6164, 6163, 6162, 6161, 6160, 6159, 6158, 6157, 6156, 6155, 6154, 6153, 6152, 6151, 6150,
              6149, 6148, 6147, 6146, 6145, 6144, 6143, 6142, 6141, 6140, 6139, 6138, 6137, 6136, 6135,
              6134, 6133, 6132, 6131, 6130, 6129, 6128, 6127, 6126, 6125, 6124, 6123, 6122, 6121, 6120,
              6119, 6118, 6117, 6116, 6115, 6114, 6113, 6112, 6110, 6107]
rows = [row_6164, row_6163, row_6162, row_6161, row_6160, row_6159, row_6158, row_6157, row_6156, row_6155,
        row_6154, row_6153, row_6152, row_6151, row_6150, row_6149, row_6148, row_6147, row_6146, row_6145,
        row_6144, row_6143, row_6142, row_6141, row_6140, row_6139, row_6138, row_6137, row_6136, row_6135,
        row_6134, row_6133, row_6132, row_6131, row_6130, row_6129, row_6128, row_6127, row_6126, row_6125,
        row_6124, row_6123, row_6122, row_6121, row_6120, row_6119, row_6118, row_6117, row_6116, row_6115,
        row_6114, row_6113, row_6112, row_6110, row_6107]

samples = []
counts = []
for level, row in zip(adc_levels, rows):
    samples.extend(row)
    counts.extend([level] * len(row))

fig, ax = plt.subplots(figsize=(10, 10))
ax.plot(samples, counts, "k.", label="Samples\n$\\mu$ = 6138.51, $\\sigma$ = 7.44")
ax.set_title("Run 529, channel031, Pedestal")
ax.set_xlabel("Sample #")
ax.set_ylabel("ADC Counts")
ax.set_xlim(-479, 10347)
ax.grid(True)
ax.legend(loc="upper right")
fig.subplots_adjust(left=0.081, right=0.985, top=0.965, bottom=0.058)
fig.savefig("out.png", dpi=100)
